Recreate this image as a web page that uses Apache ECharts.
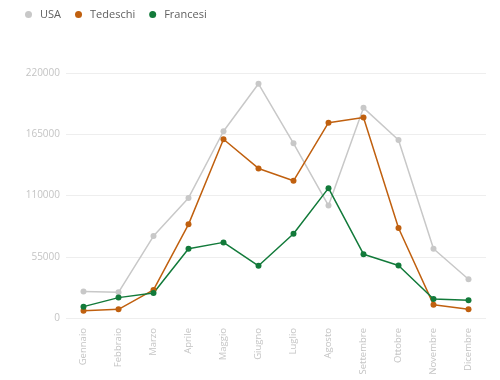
<!DOCTYPE html>
<html><head><meta charset="utf-8">
<script src="https://cdn.jsdelivr.net/npm/echarts@6/dist/echarts.min.js"></script>
<style>html,body{margin:0;padding:0;background:#fff}#c{width:500px;height:380px}</style>
</head><body><div id="c"></div>
<script>
const months = ["Gennaio","Febbraio","Marzo","Aprile","Maggio","Giugno","Luglio","Agosto","Settembre","Ottobre","Novembre","Dicembre"];
const usa = [23700, 23100, 73600, 107800, 167700, 210300, 156900, 101000, 188700, 159900, 62200, 34800];
const tedeschi = [6600, 7800, 25200, 84100, 160500, 134300, 123200, 175400, 180000, 80800, 12000, 7800];
const francesi = [10200, 18300, 22500, 62200, 67900, 46900, 75700, 116600, 57300, 47200, 17100, 15900];
const yTicks = [0, 55000, 110000, 165000, 220000];

const chart = echarts.init(document.getElementById('c'), null, {renderer:'canvas'});
const font = "'Open Sans', sans-serif";
function s(name, data, color){
  return {name, type:'line', data, symbol:'circle', symbolSize:6,
    itemStyle:{color}, lineStyle:{color, width:1.5}};
}
chart.setOption({
  animation:false,
  textStyle:{fontFamily:font},
  legend:{left:20, top:4, icon:'circle', itemWidth:7, itemHeight:7, itemGap:14,
    textStyle:{color:'#606060', fontSize:11, fontFamily:font, padding:[0,0,0,3]}},
  grid:{left:66, right:14, top:73, bottom:62},
  xAxis:{type:'category', data:months, boundaryGap:true,
    axisLine:{show:false}, axisTick:{show:false},
    axisLabel:{rotate:90, color:'#c4c4c4', fontSize:9.5, margin:10, interval:0}},
  yAxis:{type:'value', min:yTicks[0], max:yTicks[yTicks.length-1], interval:55000,
    axisLine:{show:false}, axisTick:{show:false},
    axisLabel:{color:'#c4c4c4', fontSize:10, margin:6, formatter:v=>String(v)},
    splitLine:{lineStyle:{color:'#eeeeee'}}},
  series:[s('USA', usa, '#c8c8c8'), s('Tedeschi', tedeschi, '#c0600f'), s('Francesi', francesi, '#127a3a')]
});
</script></body></html>
